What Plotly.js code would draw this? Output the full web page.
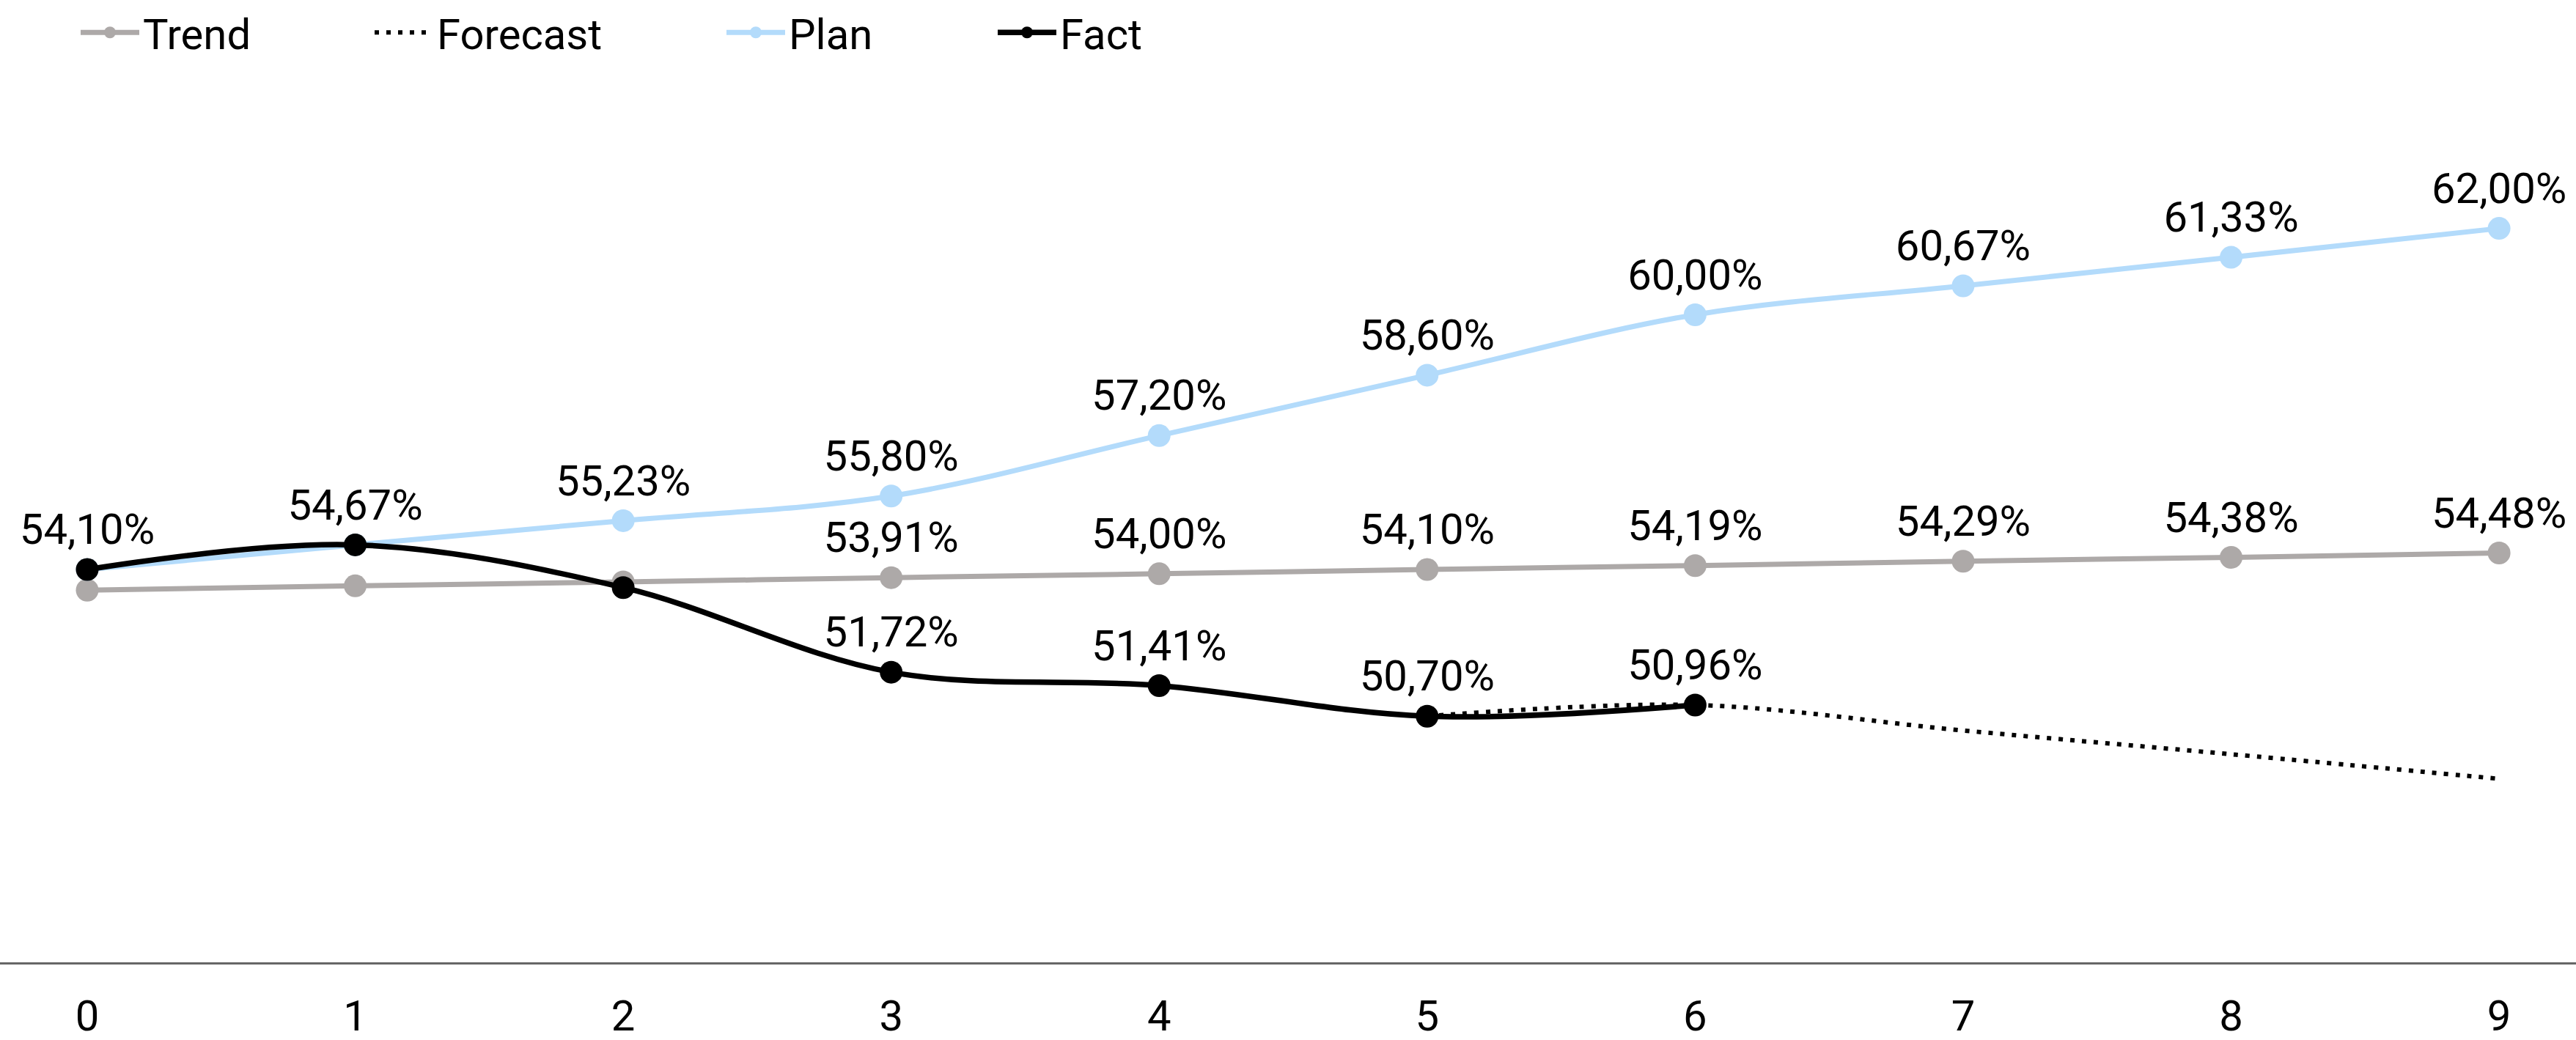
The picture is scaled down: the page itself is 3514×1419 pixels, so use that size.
<!DOCTYPE html>
<html>
<head>
<meta charset="utf-8">
<script src="https://cdn.plot.ly/plotly-3.0.1.min.js"></script>
<style>
  html, body { margin: 0; padding: 0; background: #ffffff; }
  #chart { width: 3514px; height: 1419px; }
</style>
</head>
<body>
<div id="chart"></div>
<script>
// ---- data ----
const xCategories = [0, 1, 2, 3, 4, 5, 6, 7, 8, 9];
const tickLabels = ["0", "1", "2", "3", "4", "5", "6", "7", "8", "9"];

const trendValues = [53.62, 53.72, 53.81, 53.91, 54.00, 54.10, 54.19, 54.29, 54.38, 54.48];
const planValues = [54.10, 54.67, 55.23, 55.80, 57.20, 58.60, 60.00, 60.67, 61.33, 62.00];
const factX = [0, 1, 2, 3, 4, 5, 6];
const factValues = [54.10, 54.67, 53.68, 51.72, 51.41, 50.70, 50.96];
const forecastX = [5, 6, 7, 8, 9];
const forecastValues = [50.70, 50.96, 50.37, 49.82, 49.25];

// which points carry a visible value label (others are hidden where labels overlap)
const trendLabelShown = [false, false, false, true, true, true, true, true, true, true];
const planLabelShown = [false, false, true, true, true, true, true, true, true, true];
const factLabelShown = [true, true, false, true, true, true, true];

// ---- helpers ----
function fmt(v) { return v.toFixed(2).replace('.', ',') + '%'; }
function labels(values, shown) { return values.map((v, i) => shown[i] ? fmt(v) : ''); }

const FONT = 'Roboto, "Noto Sans", sans-serif';
const FS = 58;
const COL_TREND = '#ADA9A8';
const COL_PLAN = '#B3DBFB';
const COL_FACT = '#000000';

const traces = [
  {
    name: 'Trend', x: xCategories, y: trendValues, type: 'scatter',
    mode: 'lines+markers+text', text: labels(trendValues, trendLabelShown),
    textposition: 'top center', textfont: {family: FONT, size: FS, color: '#000'},
    line: {color: COL_TREND, width: 7, shape: 'spline'},
    marker: {color: COL_TREND, size: 31},
    cliponaxis: false, hoverinfo: 'skip', legend: 'legend'
  },
  {
    name: 'Forecast', x: forecastX, y: forecastValues, type: 'scatter',
    mode: 'lines',
    line: {color: '#000000', width: 6, dash: '6px,10px', shape: 'spline'},
    cliponaxis: false, hoverinfo: 'skip', legend: 'legend2'
  },
  {
    name: 'Plan', x: xCategories, y: planValues, type: 'scatter',
    mode: 'lines+markers+text', text: labels(planValues, planLabelShown),
    textposition: 'top center', textfont: {family: FONT, size: FS, color: '#000'},
    line: {color: COL_PLAN, width: 7, shape: 'spline'},
    marker: {color: COL_PLAN, size: 31},
    cliponaxis: false, hoverinfo: 'skip', legend: 'legend3'
  },
  {
    name: 'Fact', x: factX, y: factValues, type: 'scatter',
    mode: 'lines+markers+text', text: labels(factValues, factLabelShown),
    textposition: 'top center', textfont: {family: FONT, size: FS, color: '#000'},
    line: {color: COL_FACT, width: 7.5, shape: 'spline'},
    marker: {color: COL_FACT, size: 31},
    cliponaxis: false, hoverinfo: 'skip', legend: 'legend4'
  }
];

const W = 3514, H = 1419;
const legendBase = {
  orientation: 'h', xanchor: 'left', yanchor: 'top', y: 1.0614,
  font: {family: FONT, size: FS, color: '#000'},
  bgcolor: 'rgba(0,0,0,0)', borderwidth: 0, itemwidth: 80, itemsizing: 'trace'
};
const legendStarts = [92, 493, 973, 1343];
const legendShift = 18;

const layout = {
  width: W, height: H,
  margin: {l: 0, r: 0, t: 76, b: 106, pad: 0},
  paper_bgcolor: '#ffffff', plot_bgcolor: '#ffffff',
  font: {family: FONT, size: FS, color: '#000'},
  showlegend: true,
  legend:  Object.assign({}, legendBase, {x: (legendStarts[0] - 5 + legendShift) / W}),
  legend2: Object.assign({}, legendBase, {x: (legendStarts[1] - 5 + legendShift) / W}),
  legend3: Object.assign({}, legendBase, {x: (legendStarts[2] - 5 + legendShift) / W}),
  legend4: Object.assign({}, legendBase, {x: (legendStarts[3] - 5 + legendShift) / W}),
  xaxis: {
    range: [-0.3255, 9.287], tickmode: 'array', tickvals: xCategories, ticktext: tickLabels,
    showgrid: false, zeroline: false, showline: true, linecolor: '#666666', linewidth: 3,
    ticks: '', ticklabelstandoff: 20, tickfont: {family: FONT, size: FS, color: '#000'},
    fixedrange: true
  },
  yaxis: {
    range: [45, 66], visible: false, showgrid: false, zeroline: false, fixedrange: true
  }
};

Plotly.newPlot('chart', traces, layout, {staticPlot: true, displayModeBar: false});
</script>
</body>
</html>
